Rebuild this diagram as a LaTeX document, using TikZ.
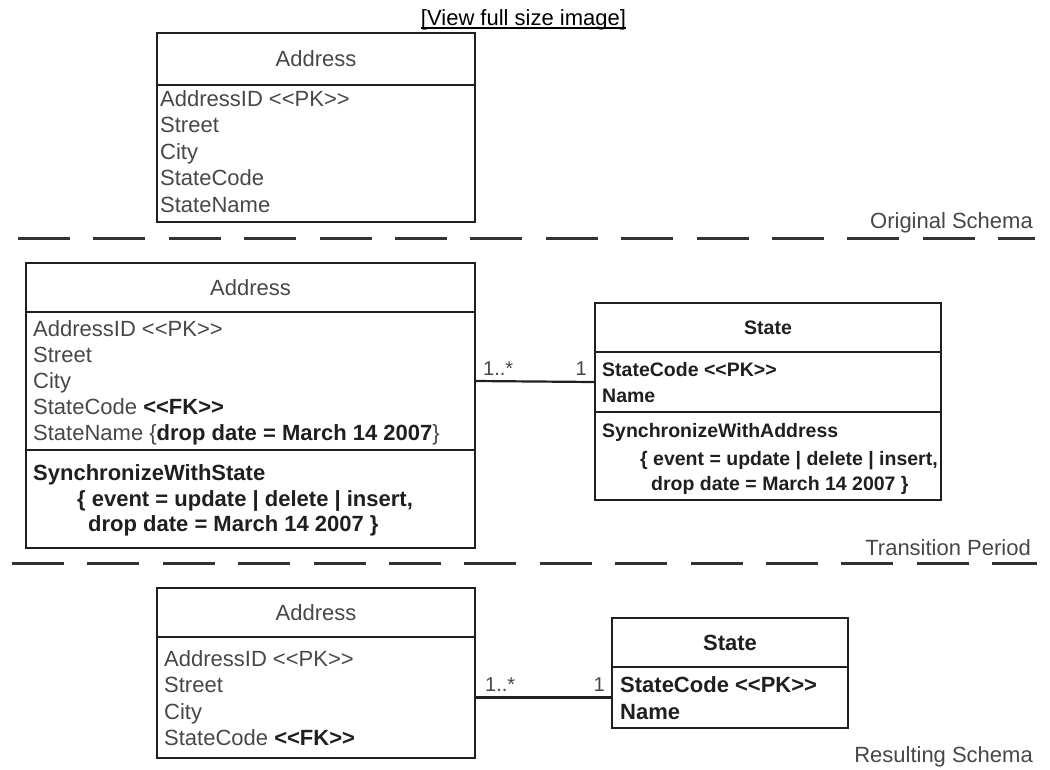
\documentclass[tikz,border=0pt]{standalone}
\usepackage{fontspec}
\newfontfamily\uf{Liberation Sans}
\definecolor{txtg}{gray}{0.28}
\definecolor{boldc}{gray}{0.12}
\definecolor{linec}{gray}{0.12}
\definecolor{sepc}{gray}{0.2}
\begin{document}
\begin{tikzpicture}[x=1pt,y=-1pt,
  box/.style={draw=linec, line width=2.4pt, anchor=north west, inner sep=0pt, outer sep=0pt},
  rg/.style={anchor=base west, inner sep=0pt, text=txtg, font=\uf\fontsize{22}{26}\selectfont},
  bd/.style={anchor=base west, inner sep=0pt, text=boldc, font=\uf\bfseries\fontsize{22}{26}\selectfont},
  bds/.style={anchor=base west, inner sep=0pt, text=boldc, font=\uf\bfseries\fontsize{19.5}{24}\selectfont},
  ttl/.style={inner sep=0pt, text=txtg, font=\uf\fontsize{22}{26}\selectfont},
  bttl/.style={inner sep=0pt, text=boldc, font=\uf\bfseries\fontsize{22}{26}\selectfont},
  bttls/.style={inner sep=0pt, text=boldc, font=\uf\bfseries\fontsize{19.5}{24}\selectfont},
  sepline/.style={draw=sepc, line width=3pt, dash pattern=on 52pt off 23.4pt},
  conn/.style={draw=linec, line width=2.2pt},
  lab/.style={anchor=base east, inner sep=0pt, text=txtg, font=\uf\fontsize{22}{26}\selectfont},
  mult/.style={inner sep=0pt, text=txtg, font=\uf\fontsize{20}{24}\selectfont}]
\useasboundingbox (0,0) rectangle (1050,769);

% link at top
\node[anchor=base, inner sep=0pt, text=black, font=\uf\fontsize{22}{26}\selectfont] (view) at (523.5,25) {[View full size image]};
\draw[line width=1.2pt] ([yshift=-3pt]view.base west) -- ([yshift=-3pt]view.base east);

% ---------- Original schema ----------
\node[box, minimum width=318pt, minimum height=52pt] (a1h) at (157,33) {};
\node[box, minimum width=318pt, minimum height=137pt] (a1a) at (157,85) {};
\node[ttl] (a1n) at (a1h.center) {Address};
\foreach \t [count=\i from 0] in {AddressID <<PK>>, Street, City, StateCode, StateName}
  \node[rg] (a1t\i) at (160, 106+26.5*\i) {\t};

\draw[sepline] (18,238) -- (1035,238);
\node[lab] (l1) at (1033,228) {Original Schema};

% ---------- Transition period ----------
\node[box, minimum width=449pt, minimum height=49pt] (a2h) at (26,263) {};
\node[box, minimum width=449pt, minimum height=138pt] (a2a) at (26,312) {};
\node[box, minimum width=449pt, minimum height=98pt] (a2o) at (26,450) {};
\node[ttl] (a2n) at (a2h.center) {Address};
\node[rg] (a2t0) at (33,336) {AddressID <<PK>>};
\node[rg] (a2t1) at (33,362) {Street};
\node[rg] (a2t2) at (33,388) {City};
\node[rg] (a2t3) at (33,414) {StateCode \textbf{\color{boldc}<<FK>>}};
\node[rg] (a2t4) at (33,440) {StateName \{\textbf{\color{boldc}drop date = March 14 2007}\}};
\node[bd] (a2o0) at (33,480) {SynchronizeWithState};
\node[bd] (a2o1) at (77,506) {\{ event = update | delete | insert,};
\node[bd] (a2o2) at (88,531) {drop date = March 14 2007 \}};

\node[box, minimum width=346pt, minimum height=49pt] (s2h) at (595,303) {};
\node[box, minimum width=346pt, minimum height=60pt] (s2a) at (595,352) {};
\node[box, minimum width=346pt, minimum height=88pt] (s2o) at (595,412) {};
\node[bttls] (s2n) at (s2h.center) {State};
\node[bds] (s2t0) at (602,376) {StateCode <<PK>>};
\node[bds] (s2t1) at (602,402) {Name};
\node[bds] (s2o0) at (602,437) {SynchronizeWithAddress};
\node[bds] (s2o1) at (640,465) {\{ event = update | delete | insert,};
\node[bds] (s2o2) at (651,490) {drop date = March 14 2007 \}};

\draw[conn] (a2a.east) -- (s2a.west);
\node[mult, anchor=base west] (m2a) at (483,375) {1..*};
\node[mult, anchor=base east] (m2b) at (587,375) {1};

\draw[sepline] (12,563) -- (1037,563);
\node[lab] (l2) at (1031,555) {Transition Period};

% ---------- Resulting schema ----------
\node[box, minimum width=318pt, minimum height=49pt] (a3h) at (157,588) {};
\node[box, minimum width=318pt, minimum height=121pt] (a3a) at (157,637) {};
\node[ttl] (a3n) at (a3h.center) {Address};
\node[rg] (a3t0) at (164,666) {AddressID <<PK>>};
\node[rg] (a3t1) at (164,692) {Street};
\node[rg] (a3t2) at (164,719) {City};
\node[rg] (a3t3) at (164,745) {StateCode \textbf{\color{boldc}<<FK>>}};

\node[box, minimum width=236pt, minimum height=49pt] (s3h) at (612,618) {};
\node[box, minimum width=236pt, minimum height=61pt] (s3a) at (612,667) {};
\node[bttl] (s3n) at (s3h.center) {State};
\node[bd] (s3t0) at (620,692) {StateCode <<PK>>};
\node[bd] (s3t1) at (620,719) {Name};

\draw[conn] (a3a.east) -- (s3a.west);
\node[mult, anchor=base west] (m3a) at (485,691) {1..*};
\node[mult, anchor=base east] (m3b) at (605,691) {1};

\node[lab] (l3) at (1033,762) {Resulting Schema};
\end{tikzpicture}
\end{document}
